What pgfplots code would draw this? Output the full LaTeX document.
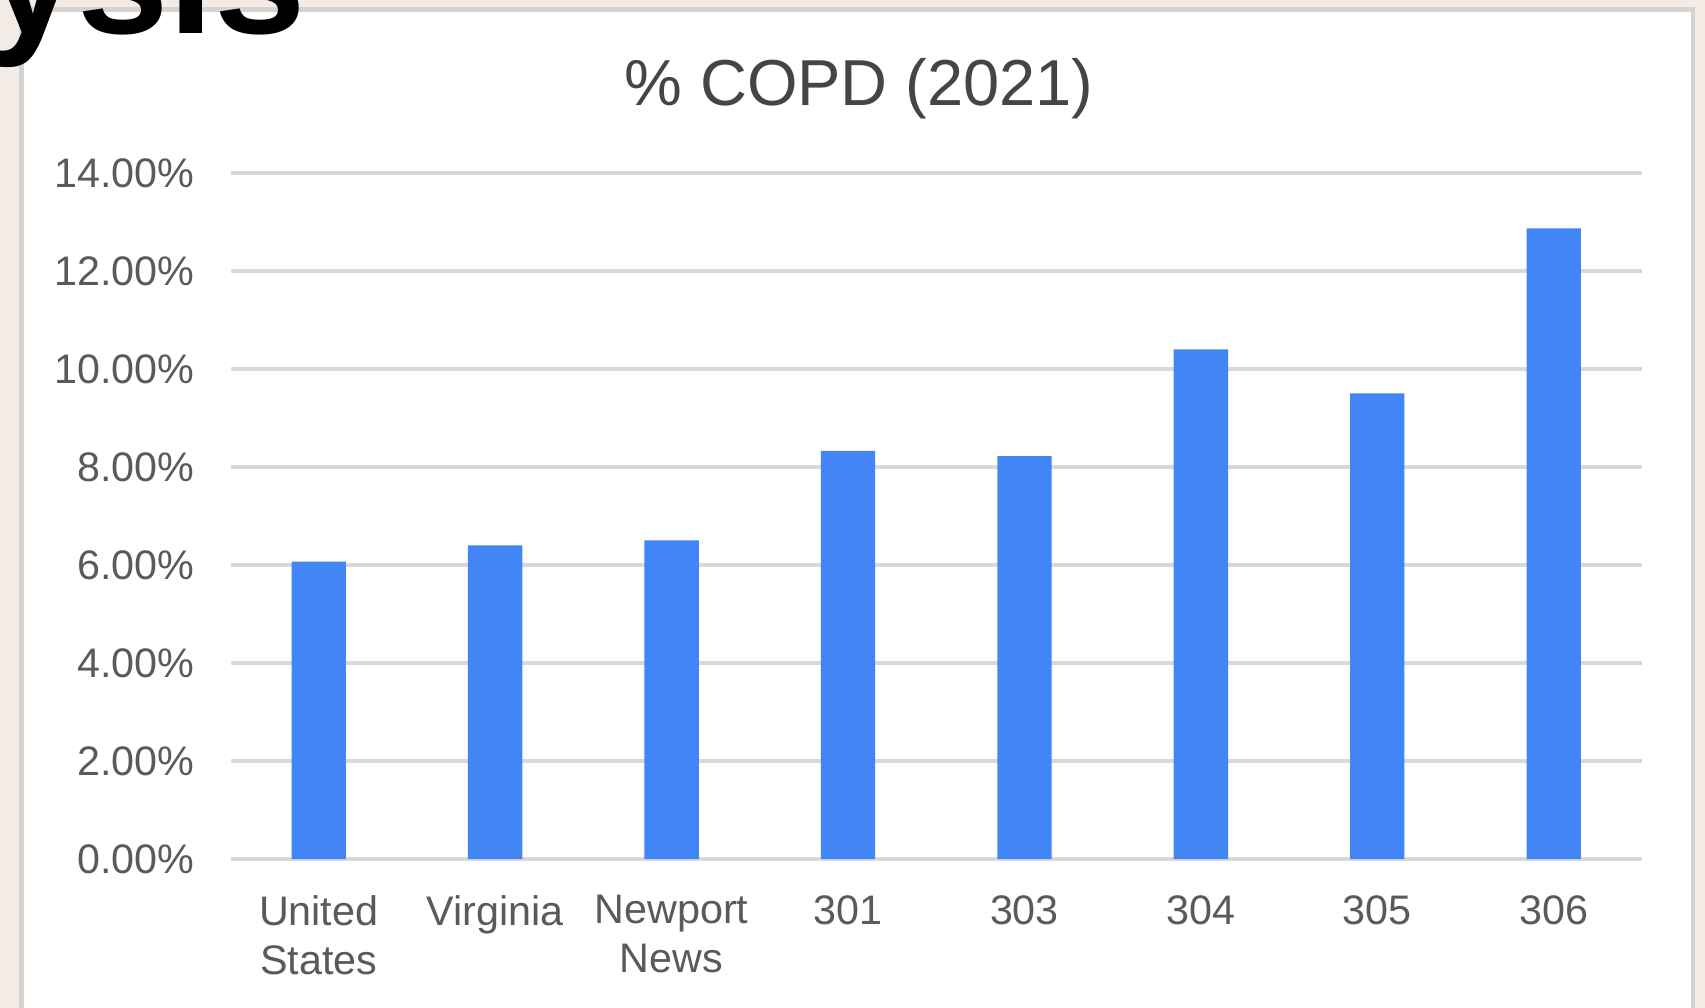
\documentclass[border=0pt]{standalone}
\usepackage{pgfplots}
\pgfplotsset{compat=1.18}
\usepackage{fontspec}
\setmainfont{Liberation Sans}

\definecolor{barblue}{HTML}{4285F4}
\definecolor{gridgray}{HTML}{D9D9D9}
\definecolor{tickgray}{HTML}{5A5A5A}
\definecolor{titlegray}{HTML}{454545}
\definecolor{slidebg}{RGB}{243,235,229}
\definecolor{boxedge}{HTML}{D6D2CF}

\begin{document}
\begin{tikzpicture}
	% page = 1568 x 927 units of 0.1 mm
	\clip (0,0) rectangle (15.68cm,9.27cm);
	\fill[slidebg] (0,0) rectangle (15.68cm,9.27cm);
	\filldraw[fill=white, draw=boxedge, line width=1.2pt] (0.20cm,-1cm) rectangle (15.57cm,9.18cm);

	\node[anchor=base, text=titlegray, font=\fontsize{17pt}{20pt}\selectfont]
		at (7.90cm,8.30cm) {\% COPD (2021)};

	\begin{axis}[
		at={(2.12cm,1.37cm)},
		anchor=south west,
		scale only axis,
		width=12.98cm,
		height=6.31cm,
		ybar,
		bar width=0.50cm,
		bar shift=0pt,
		xmin=-0.5, xmax=7.5,
		ymin=0, ymax=14,
		axis line style={draw=none},
		major tick length=0pt,
		xtick=data,
		xticklabels={{United\\States},Virginia,{Newport\\News},301,303,304,305,306},
		ytick={0,2,4,6,8,10,12,14},
		yticklabels={0.00\%,2.00\%,4.00\%,6.00\%,8.00\%,10.00\%,12.00\%,14.00\%},
		ymajorgrids,
		grid style={gridgray, line width=1pt},
		tick label style={text=tickgray, font=\fontsize{10.8pt}{12.8pt}\selectfont},
		xticklabel style={align=center, yshift=-6pt},
		yticklabel style={xshift=-6pt},
		clip=false,
	]
	\addplot[fill=barblue, draw=none] coordinates {
		(0, 6.07)
		(1, 6.40)
		(2, 6.50)
		(3, 8.33)
		(4, 8.22)
		(5, 10.40)
		(6, 9.50)
		(7, 12.87)
	};
	\end{axis}

	% slide title fragment overlapping the chart box
	\node[anchor=base east, inner sep=0pt, font=\bfseries\fontsize{43pt}{48pt}\selectfont]
		at (2.82cm,8.96cm) {ysis};
\end{tikzpicture}
\end{document}
